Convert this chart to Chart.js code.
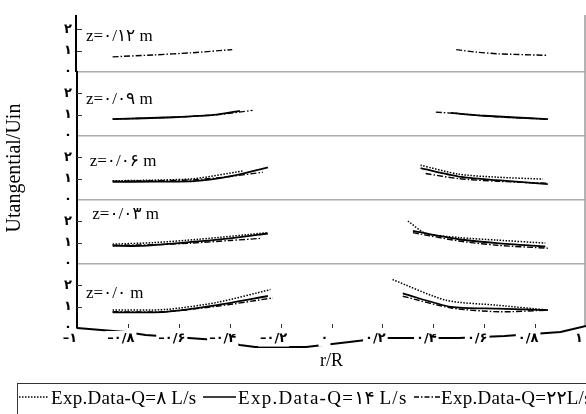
<!DOCTYPE html>
<html><head><meta charset="utf-8">
<script src="https://cdn.jsdelivr.net/npm/chart.js@4.4.0/dist/chart.umd.min.js"></script>
<style>
html,body{margin:0;padding:0;background:#fff;overflow:hidden;}
#wrap{position:relative;width:586px;height:414px;overflow:hidden;}
#legend{position:absolute;left:17px;top:383px;width:640px;height:40px;border:1.5px solid #333;box-sizing:border-box;font:19px 'Liberation Serif','DejaVu Sans',serif;color:#000;white-space:nowrap;letter-spacing:0.3px;}
#legend svg{position:absolute;top:10px;}
#legend span.tx{position:absolute;top:2px;}
</style></head><body>
<div id="wrap"><canvas id="c" width="586" height="414"></canvas><div id="legend"></div></div>
<script>
// ---- data ----
const panelLabels = ['z=۰/۱۲ m', 'z=۰/۰۹ m', 'z=۰/۰۶ m', 'z=۰/۰۳ m', 'z=۰/۰ m'];
const seriesNames = ['Exp.Data-Q=۸ L/s', 'Exp.Data-Q=۱۴ L/s', 'Exp.Data-Q=۲۲L/s'];
const yTickValues = [0, 1, 2];
const xTickValues = [-1, -0.8, -0.6, -0.4, -0.2, 0, 0.2, 0.4, 0.6, 0.8, 1];

// [r/R, Ut/Uin] pairs; null = gap in the core region
const z012_q8 = null;
const z012_q14 = null;
const z012_q22 = [[-0.86,0.71],[-0.7,0.8],[-0.55,0.9],[-0.39,1.05],null,[0.49,1.05],[0.57,0.93],[0.66,0.85],[0.85,0.78]];

const z009_q8 = null;
const z009_q14 = [[-0.86,0.79],[-0.62,0.88],[-0.45,1.0],[-0.36,1.18],null,[0.47,1.08],[0.6,0.95],[0.85,0.79]];
const z009_q22 = [[-0.86,0.79],[-0.62,0.88],[-0.45,1.0],[-0.31,1.2],null,[0.41,1.12],[0.5,1.05],[0.65,0.9],[0.85,0.79]];

const z006_q8 = [[-0.86,0.9],[-0.7,0.93],[-0.54,1.0],[-0.35,1.36],null,[0.35,1.63],[0.5,1.21],[0.65,1.07],[0.83,0.98]];
const z006_q14 = [[-0.86,0.85],[-0.7,0.86],[-0.54,0.88],[-0.39,1.13],[-0.25,1.53],null,[0.35,1.49],[0.5,1.1],[0.65,0.93],[0.85,0.74]];
const z006_q22 = [[-0.86,0.88],[-0.7,0.9],[-0.54,0.95],[-0.4,1.1],[-0.27,1.3],null,[0.37,1.24],[0.5,1.0],[0.65,0.88],[0.85,0.78]];

const z003_q8 = [[-0.86,0.93],[-0.7,1.0],[-0.52,1.16],[-0.25,1.47],null,[0.3,2.01],[0.37,1.44],[0.5,1.24],[0.65,1.12],[0.84,0.98]];
const z003_q14 = [[-0.86,0.85],[-0.75,0.85],[-0.6,0.98],[-0.4,1.2],[-0.25,1.43],null,[0.32,1.55],[0.5,1.16],[0.65,0.98],[0.84,0.82]];
const z003_q22 = [[-0.86,0.88],[-0.7,0.9],[-0.55,0.98],[-0.4,1.1],[-0.28,1.2],null,[0.32,1.47],[0.5,1.08],[0.65,0.88],[0.85,0.74]];

const z000_q8 = [[-0.86,0.84],[-0.65,0.87],[-0.45,1.2],[-0.24,1.8],null,[0.24,2.27],[0.45,1.3],[0.65,1.07],[0.85,0.84]];
const z000_q14 = [[-0.86,0.73],[-0.65,0.76],[-0.45,1.07],[-0.25,1.5],null,[0.28,1.62],[0.47,0.99],[0.65,0.91],[0.85,0.84]];
const z000_q22 = [[-0.86,0.76],[-0.65,0.77],[-0.45,1.02],[-0.23,1.41],null,[0.28,1.49],[0.47,0.94],[0.66,0.76],[0.85,0.84]];

const panelData = [
  [z012_q8, z012_q14, z012_q22],
  [z009_q8, z009_q14, z009_q22],
  [z006_q8, z006_q14, z006_q22],
  [z003_q8, z003_q14, z003_q22],
  [z000_q8, z000_q14, z000_q22]
];

// ---- layout / style (not data) ----
const labelPos = [[-0.965,1.67],[-0.965,1.72],[-0.95,1.81],[-0.94,2.33],[-0.965,1.63]];
const baseCurve = [[-1,0],[-0.81,4],[-0.73,7],[-0.45,12],[-0.36,17],[-0.3,19],[-0.1,19],[0.07,14],[0.2,10],[0.5,10],[0.68,8],[0.9,4],[1,-2]];
const styles = [
  {borderDash:[1.5,1.5], borderWidth:1.5, svgDash:'1.5 1.5'},
  {borderDash:[], borderWidth:1.8, svgDash:''},
  {borderDash:[6,2,1.5,2], borderWidth:1.4, svgDash:'5 2 1.5 2'}
];
const legendPos = [[1, 30, 33, 0.3], [185, 33, 220, 1.3], [396, 27, 423, 0.3]]; // [sampleLeft, sampleWidth, textLeft, letterSpacing]

const FA = '۰۱۲۳۴۵۶۷۸۹';
const fa = s => String(s).replace(/\d/g, d => FA[d]);
function xLabel(v){
  const r = Math.round(v*10)/10;
  if (r === 0) return '۰';
  const a = Math.abs(r);
  const s = a === 1 ? '۱' : '۰/' + fa(Math.round(a*10));
  return (r < 0 ? '–' : '') + s;
}

const datasets = [];
panelData.forEach((series, pi) => {
  series.forEach((pts, si) => {
    if (!pts) return;
    datasets.push({
      label: seriesNames[si],
      yAxisID: 'p' + pi,
      data: pts.map(p => p ? {x:p[0], y:p[1]} : {x:0, y:null}),
      borderColor: '#000',
      borderWidth: styles[si].borderWidth,
      borderDash: styles[si].borderDash,
      pointRadius: 0,
      tension: 0.25,
      fill: false,
      spanGaps: false
    });
  });
});

const scales = {
  x: {
    type: 'linear', position: 'bottom', min: -1, max: 1,
    afterBuildTicks: s => { s.ticks = xTickValues.map(v => ({value: v})); },
    ticks: {
      callback: v => xLabel(v), color: '#000', padding: 3, labelOffset: -7,
      font: {family: "'DejaVu Sans', sans-serif", size: 13, weight: 'bold'},
      maxRotation: 0, autoSkip: false,
      showLabelBackdrop: true, backdropColor: '#fff', backdropPadding: {left:2,right:2,top:0,bottom:0}
    },
    grid: {display: false, drawTicks: false},
    border: {display: false},
    title: {display: true, text: 'r/R', color: '#000', font: {family: "'Liberation Serif', serif", size: 18}, padding: {top: 2, bottom: 0}},
    afterFit: s => { s.height = 44; s.paddingLeft = 0; s.paddingRight = 0; }
  }
};
// stacked axes: first defined ends up at the bottom, so define from the bottom panel upward
for (let pi = panelLabels.length - 1; pi >= 0; pi--) {
  scales['p' + pi] = {
    type: 'linear', position: 'left', stack: 'panels', stackWeight: 1,
    min: 0, max: 3,
    afterBuildTicks: s => { s.ticks = yTickValues.concat([3]).map(v => ({value: v})); },
    ticks: {
      callback: v => (v === 3 ? '' : fa(v)), color: '#000', padding: 5,
      font: {family: "'DejaVu Sans', sans-serif", size: 13, weight: 'bold'}, autoSkip: false
    },
    grid: {
      drawTicks: false,
      color: ctx => (ctx.tick && ctx.tick.value === 0 && pi < panelLabels.length - 1) ? '#ababab' : 'rgba(0,0,0,0)',
      lineWidth: 1.5
    },
    border: {display: pi !== 0, color: '#000', width: 2},
    title: pi === 2 ? {display: true, text: 'Utangential/Uin', color: '#000', font: {family: "'Liberation Serif', serif", size: 20}, padding: {top: 3, bottom: 0}} : {display: false},
    afterFit: s => { s.width = 77; s.paddingTop = 0; s.paddingBottom = 0; }
  };
}

const decor = {
  id: 'decor',
  beforeDraw(chart) {
    const ctx = chart.ctx, xs = chart.scales.x, a = chart.chartArea;
    const top = chart.scales.p0;
    ctx.save();
    ctx.strokeStyle = '#9a9a9a'; ctx.lineWidth = 1.5;
    ctx.beginPath(); ctx.moveTo(a.right - 1, a.top + 7); ctx.lineTo(a.right - 1, a.bottom - 2); ctx.stroke();
    // left axis line of the top panel starts a little below the chart top
    ctx.strokeStyle = '#000'; ctx.lineWidth = 2;
    ctx.beginPath(); ctx.moveTo(a.left - 1, a.top + 7); ctx.lineTo(a.left - 1, top.bottom); ctx.stroke();
    ctx.beginPath();
    baseCurve.forEach((p, i) => {
      const px = xs.getPixelForValue(p[0]), py = a.bottom + p[1];
      if (i) ctx.lineTo(px, py); else ctx.moveTo(px, py);
    });
    ctx.stroke();
    ctx.restore();
  },
  afterDatasetsDraw(chart) {
    const ctx = chart.ctx, xs = chart.scales.x, a = chart.chartArea;
    ctx.save();
    ctx.strokeStyle = '#333'; ctx.lineWidth = 1;
    xTickValues.forEach(v => {
      if (v === -1 || v === 1) return;
      const px = Math.round(xs.getPixelForValue(v)) + 0.5;
      ctx.beginPath(); ctx.moveTo(px, a.bottom); ctx.lineTo(px, a.bottom - 4); ctx.stroke();
    });
    panelLabels.forEach((lbl, pi) => {
      const ys = chart.scales['p' + pi];
      [1, 2].forEach(v => {
        const py = Math.round(ys.getPixelForValue(v)) + 0.5;
        ctx.beginPath(); ctx.moveTo(a.left, py); ctx.lineTo(a.left + 5, py); ctx.stroke();
      });
      ctx.fillStyle = '#000';
      ctx.font = "17px 'Liberation Serif', 'DejaVu Sans', serif";
      ctx.textBaseline = 'middle'; ctx.textAlign = 'left';
      ctx.fillText(lbl, xs.getPixelForValue(labelPos[pi][0]), ys.getPixelForValue(labelPos[pi][1]));
    });
    ctx.restore();
  }
};

new Chart(document.getElementById('c'), {
  type: 'line',
  data: {datasets},
  options: {
    responsive: false, animation: false, devicePixelRatio: 1,
    layout: {padding: {top: 8, bottom: 42, left: 0, right: 0}},
    plugins: {legend: {display: false}, tooltip: {enabled: false}},
    scales
  },
  plugins: [decor]
});

// legend (HTML)
const lg = document.getElementById('legend');
seriesNames.forEach((name, si) => {
  const [sl, sw, tl, ls] = legendPos[si];
  lg.insertAdjacentHTML('beforeend',
    `<svg width="${sw}" height="6" style="left:${sl}px"><line x1="0" y1="3" x2="${sw}" y2="3" stroke="#000" stroke-width="${si === 1 ? 1.6 : 1.3}" ${styles[si].svgDash ? `stroke-dasharray="${styles[si].svgDash}"` : ''}/></svg><span class="tx" style="left:${tl}px;letter-spacing:${ls}px">${name}</span>`);
});
</script></body></html>
